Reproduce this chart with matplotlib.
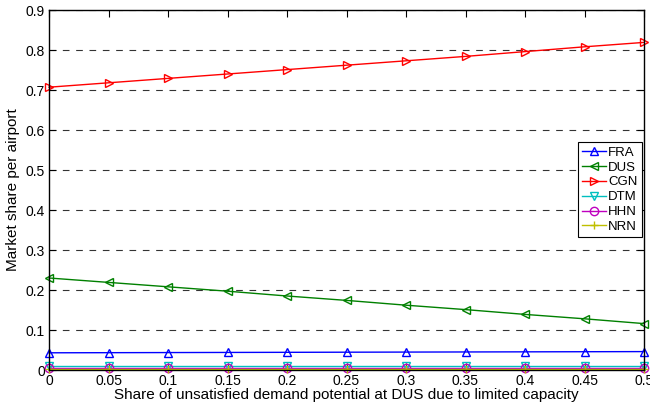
import matplotlib
matplotlib.use("Agg")
import matplotlib.pyplot as plt
import numpy as np

x = [0, 0.05, 0.1, 0.15, 0.2, 0.25, 0.3, 0.35, 0.4, 0.45, 0.5]
fra = [0.043, 0.0433, 0.0436, 0.0439, 0.0442, 0.0445, 0.0448, 0.0451, 0.0454, 0.0457, 0.046]
dus = [0.230, 0.219, 0.208, 0.197, 0.185, 0.174, 0.162, 0.151, 0.139, 0.128, 0.116]
cgn = [0.707, 0.718, 0.729, 0.740, 0.751, 0.762, 0.773, 0.784, 0.796, 0.808, 0.819]
dtm = [0.009] * 11
hhn = [0.004] * 11
nrn = [0.002] * 11

names = ["FRA", "DUS", "CGN", "DTM", "HHN", "NRN"]
series = [fra, dus, cgn, dtm, hhn, nrn]
colors = ["#0000ff", "#008000", "#ff0000", "#00bfbf", "#bf00bf", "#bfbf00"]
markers = ["^", "<", ">", "v", "o", "+"]

xticks = [0, 0.05, 0.1, 0.15, 0.2, 0.25, 0.3, 0.35, 0.4, 0.45, 0.5]
xticklabels = ["0", "0.05", "0.1", "0.15", "0.2", "0.25", "0.3", "0.35", "0.4", "0.45", "0.5"]
yticks = [0, 0.1, 0.2, 0.3, 0.4, 0.5, 0.6, 0.7, 0.8, 0.9]
yticklabels = ["0", "0.1", "0.2", "0.3", "0.4", "0.5", "0.6", "0.7", "0.8", "0.9"]

plt.rcParams['font.family'] = ['Liberation Sans', 'DejaVu Sans']
fig = plt.figure(figsize=(6.5, 4.03), dpi=100)
ax = fig.add_axes([49/650, 1-370/403, 595/650, 360/403])

for name, s, c, m in zip(names, series, colors, markers):
    ax.plot(x, s, color=c, marker=m, markersize=6, markerfacecolor='none',
            markeredgecolor=c, linewidth=1, label=name, clip_on=False)

ax.set_xlim(0, 0.5)
ax.set_ylim(0, 0.9)
ax.set_xticks(xticks)
ax.set_xticklabels(xticklabels)
ax.set_yticks(yticks)
ax.set_yticklabels(yticklabels)
ax.tick_params(direction='in', labelsize=10, length=5, width=0.8, top=True, right=True, pad=3)
ax.yaxis.grid(True, linestyle=(0, (6, 6)), color='black', linewidth=0.8, alpha=0.8)
for sp in ax.spines.values():
    sp.set_linewidth(1)
ax.set_xlabel("Share of unsatisfied demand potential at DUS due to limited capacity", fontsize=11, labelpad=0)
ax.set_ylabel("Market share per airport", fontsize=11, labelpad=4)

leg = ax.legend(loc='upper right', bbox_to_anchor=(0.996, 0.632), borderaxespad=0,
                fancybox=False, framealpha=1, edgecolor='black', fontsize=9.5,
                handlelength=1.8, handletextpad=0.2, labelspacing=0.2, borderpad=0.3)
leg.get_frame().set_linewidth(0.8)

fig.savefig("out.png", dpi=100)
